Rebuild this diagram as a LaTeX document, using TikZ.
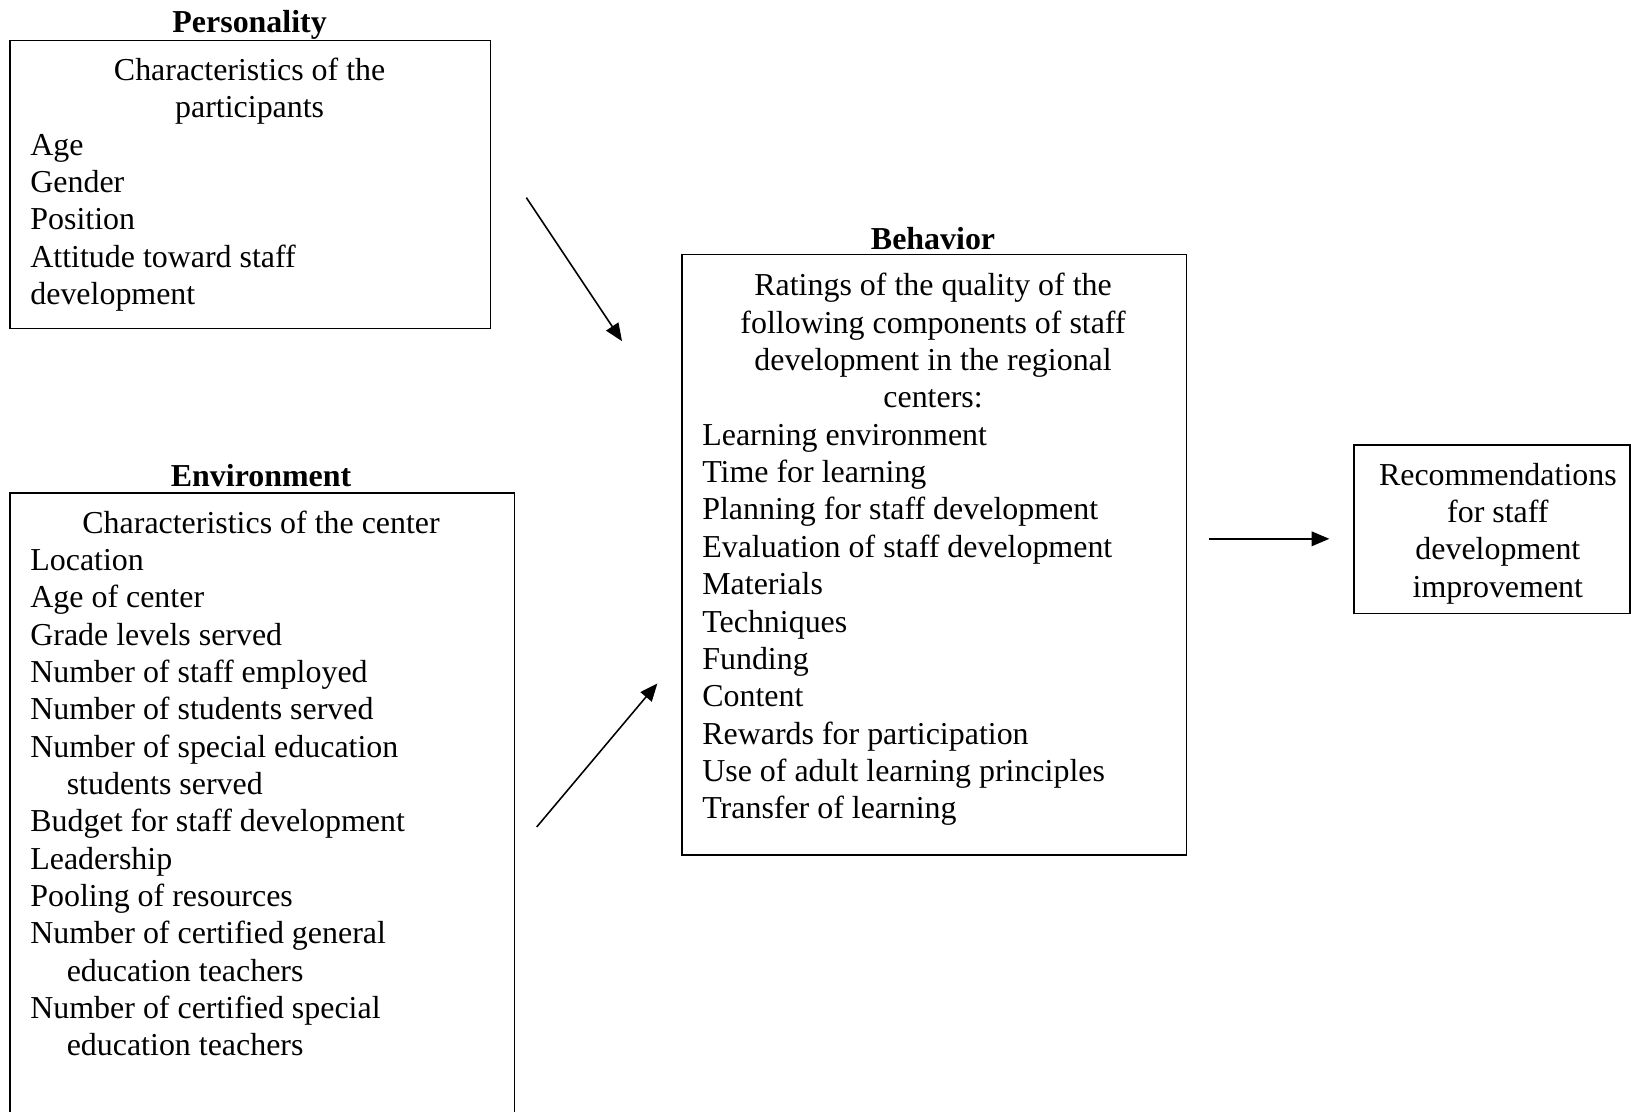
\documentclass[tikz,border=0pt]{standalone}
\usepackage{fontspec}
\setmainfont{Liberation Serif}
\usetikzlibrary{arrows.meta}
\begin{document}
\begin{tikzpicture}[x=1pt,y=-1pt,
  box/.style={draw, line width=1.5pt, anchor=north west, inner sep=0pt},
  txt/.style={anchor=base west, inner sep=0pt, font=\fontsize{30.7}{35.9}\selectfont},
  ctxt/.style={anchor=base, inner sep=0pt, font=\fontsize{30.7}{35.9}\selectfont},
  ttl/.style={anchor=base, inner sep=0pt, font=\fontsize{30.7}{35.9}\selectfont\bfseries},
  arr/.style={line width=1.5pt, -{Triangle[length=17pt,width=14pt]}}]
\useasboundingbox (0,0) rectangle (1568,1069);
\clip (0,0) rectangle (1568,1069);
% boxes
\node[box, minimum width=462pt, minimum height=277pt] (pers) at (9,38) {};
\node[box, minimum width=485pt, minimum height=650pt] (env) at (9,473) {};
\node[box, minimum width=485pt, minimum height=577pt] (beh) at (655,244) {};
\node[box, minimum width=265.5pt, minimum height=162pt] (rec) at (1301,427) {};
% titles
\node[ttl] (tpers) at (240,31.5) {Personality};
\node[ttl] (tenv) at (251,467.5) {Environment};
\node[ttl] (tbeh) at (897,239.5) {Behavior};
% personality text
\node[ctxt] (pc1) at (240,77.5) {Characteristics of the};
\node[ctxt] (pc2) at (240,113.4) {participants};
\foreach \t [count=\i] in {Age,Gender,Position,Attitude toward staff,development}
  \node[txt] (pl\i) at (29,{113.4+\i*35.9}) {\t};
% environment text
\node[ctxt] (ec1) at (251,512.5) {Characteristics of the center};
\foreach \t/\dx [count=\i] in {Location/0,Age of center/0,Grade levels served/0,
  Number of staff employed/0,Number of students served/0,
  Number of special education/0,students served/35,
  Budget for staff development/0,Leadership/0,Pooling of resources/0,
  Number of certified general/0,education teachers/35,
  Number of certified special/0,education teachers/35}
  \node[txt] (el\i) at ({29+\dx},{512.5+\i*35.9}) {\t};
% behavior text
\foreach \t [count=\i] in {Ratings of the quality of the,
  following components of staff,development in the regional,centers:}
  \node[ctxt] (bc\i) at (897,{284.5+(\i-1)*35.9}) {\t};
\foreach \t [count=\i] in {Learning environment,Time for learning,
  Planning for staff development,Evaluation of staff development,Materials,
  Techniques,Funding,Content,Rewards for participation,
  Use of adult learning principles,Transfer of learning}
  \node[txt] (bl\i) at (675,{392.2+\i*35.9}) {\t};
% recommendations text
\foreach \t [count=\i] in {Recommendations,for staff,development,improvement}
  \node[ctxt] (rc\i) at (1440,{466.5+(\i-1)*35.9}) {\t};
% arrows
\coordinate (a1s) at (506,190); \coordinate (a1e) at (598,328);
\coordinate (a2s) at (516,795); \coordinate (a2e) at (632,657);
\coordinate (a3s) at (1162,518); \coordinate (a3e) at (1278,518);
\draw[arr] (a1s) -- (a1e);
\draw[arr] (a2s) -- (a2e);
\draw[arr] (a3s) -- (a3e);
\end{tikzpicture}
\end{document}
